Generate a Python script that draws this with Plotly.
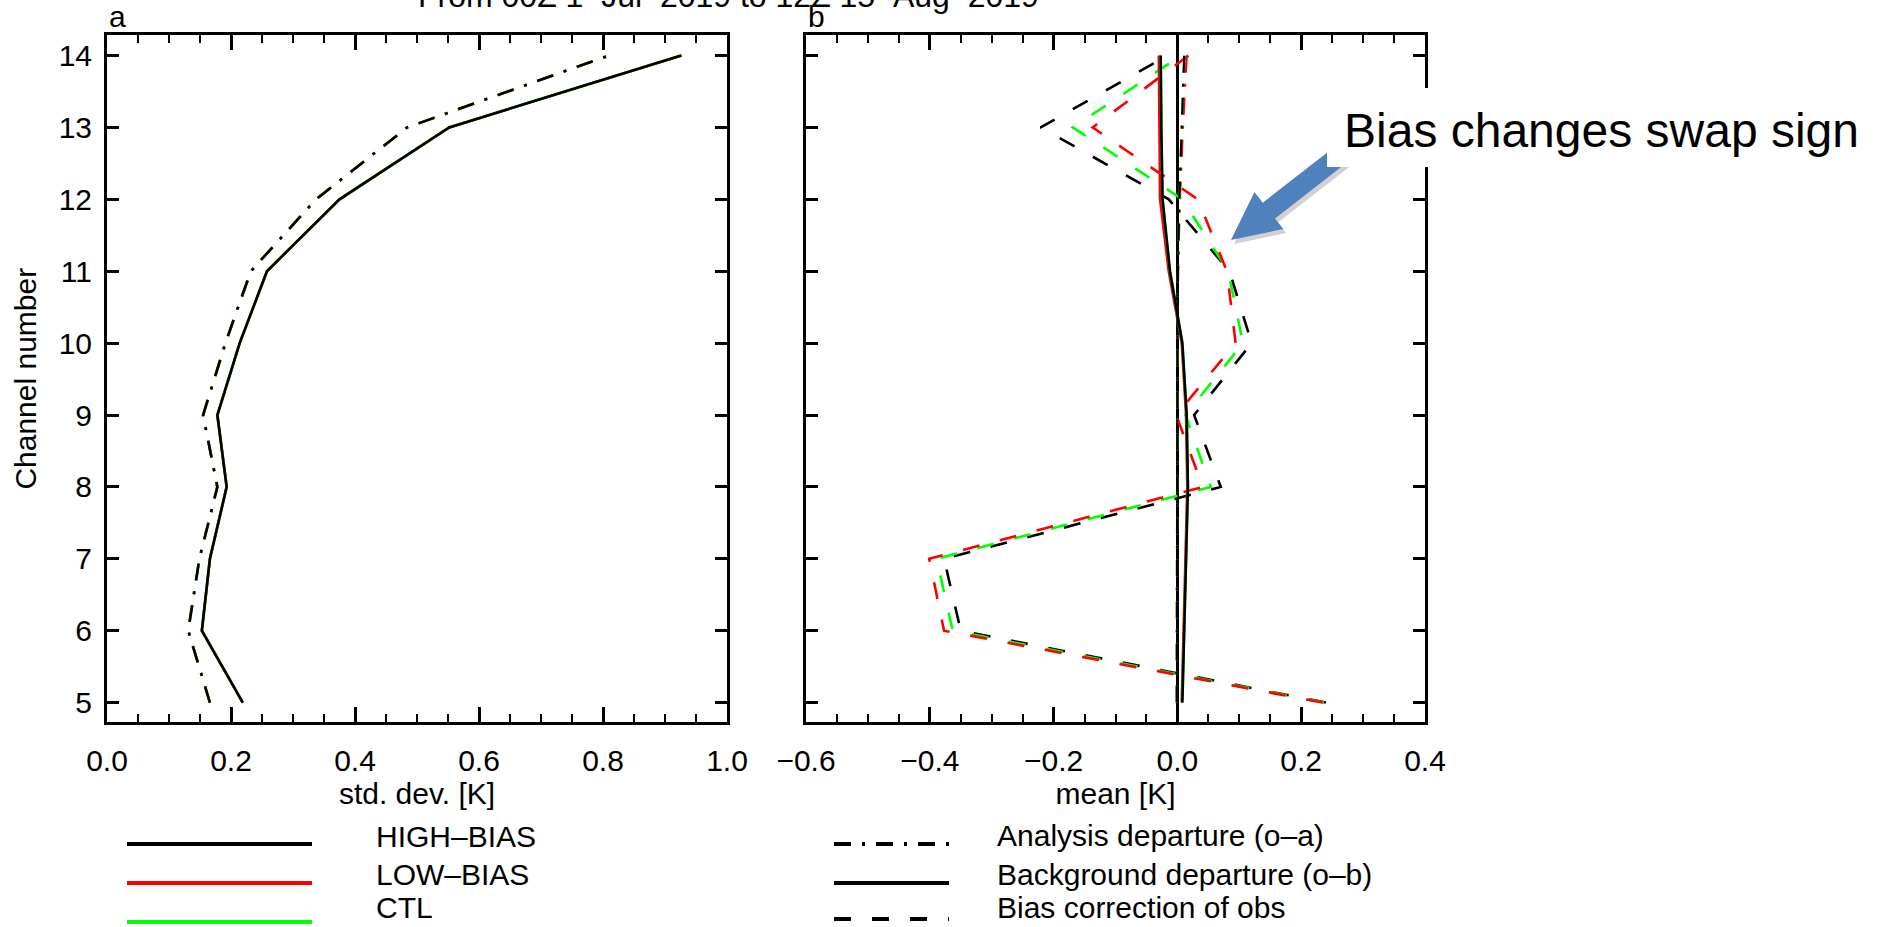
import plotly.graph_objects as go

# ---------------- data ----------------
channels = [5, 6, 7, 8, 9, 10, 11, 12, 13, 14]

# panel a: std. dev. [K] (all three experiments practically identical)
std_oa_high = [0.166, 0.131, 0.149, 0.178, 0.155, 0.191, 0.232, 0.337, 0.484, 0.809]
std_ob_high = [0.219, 0.153, 0.166, 0.193, 0.178, 0.214, 0.258, 0.375, 0.552, 0.926]
std_oa_low = [0.166, 0.131, 0.149, 0.178, 0.155, 0.191, 0.232, 0.337, 0.484, 0.810]
std_ob_low = [0.219, 0.153, 0.166, 0.193, 0.178, 0.214, 0.258, 0.375, 0.552, 0.927]
std_oa_ctl = [0.166, 0.131, 0.149, 0.178, 0.155, 0.191, 0.232, 0.337, 0.484, 0.809]
std_ob_ctl = [0.219, 0.153, 0.166, 0.193, 0.178, 0.214, 0.258, 0.375, 0.552, 0.926]

# panel b: mean [K]
bc_high = [0.240, -0.350, -0.377, 0.070, 0.027, 0.120, 0.084, -0.014, -0.221, -0.016]
bc_ctl = [0.237, -0.363, -0.389, 0.054, 0.013, 0.106, 0.082, 0.008, -0.169, 0.006]
bc_low = [0.235, -0.377, -0.401, 0.041, -0.002, 0.094, 0.080, 0.033, -0.137, 0.018]

mean_ob_high = [0.008, 0.011, 0.014, 0.017, 0.015, 0.008, -0.012, -0.024, -0.026, -0.027]
mean_ob_ctl = [0.008, 0.011, 0.014, 0.017, 0.015, 0.008, -0.012, -0.024, -0.026, -0.027]
mean_ob_low = [0.007, 0.010, 0.013, 0.016, 0.014, 0.007, -0.014, -0.028, -0.029, -0.030]

mean_oa_high = [-0.001, -0.001, -0.001, 0.000, 0.000, 0.000, 0.001, 0.003, 0.007, 0.011]
mean_oa_ctl = [-0.001, -0.001, -0.001, 0.000, 0.000, 0.000, 0.001, 0.003, 0.007, 0.011]
mean_oa_low = [-0.001, -0.001, -0.001, 0.000, 0.000, 0.000, 0.001, 0.004, 0.009, 0.015]

experiments = ["HIGH–BIAS", "LOW–BIAS", "CTL"]
exp_colors = ["#000000", "#ff0000", "#00ff00"]
line_kinds = ["Analysis departure (o–a)", "Background departure (o–b)", "Bias correction of obs"]

x_ticks_a = [0.0, 0.2, 0.4, 0.6, 0.8, 1.0]
x_ticks_b = [-0.6, -0.4, -0.2, 0.0, 0.2, 0.4]

title_text = "From 00Z 1–Jul–2019 to 12Z 15–Aug–2019"

# ---------------- layout helpers ----------------
W, H = 1886, 927
FONT = "Liberation Sans, Arial, Helvetica, sans-serif"
DASHDOT = "17px,11px,3px,11px"
DASHED = "17px,21px"


def px(x):
    return x / W


def py(y):
    return 1 - y / H


fig = go.Figure()

# panel a
for name, col, oa, ob in [("LOW–BIAS", "#ff0000", std_oa_low, std_ob_low),
                          ("CTL", "#00ff00", std_oa_ctl, std_ob_ctl),
                          ("HIGH–BIAS", "#000000", std_oa_high, std_ob_high)]:
    fig.add_trace(go.Scatter(x=oa, y=channels, mode="lines", xaxis="x", yaxis="y",
                             line=dict(color=col, width=2.6, dash=DASHDOT), showlegend=False, name=name))
    fig.add_trace(go.Scatter(x=ob, y=channels, mode="lines", xaxis="x", yaxis="y",
                             line=dict(color=col, width=2.6), showlegend=False, name=name))

# panel b
for name, col, bc in [("HIGH–BIAS", "#000000", bc_high), ("CTL", "#00ff00", bc_ctl),
                      ("LOW–BIAS", "#ff0000", bc_low)]:
    fig.add_trace(go.Scatter(x=bc, y=channels, mode="lines", xaxis="x2", yaxis="y2",
                             line=dict(color=col, width=2.6, dash=DASHED), showlegend=False, name=name))
for name, col, oa, ob in [("LOW–BIAS", "#ff0000", mean_oa_low, mean_ob_low),
                          ("CTL", "#00ff00", mean_oa_ctl, mean_ob_ctl),
                          ("HIGH–BIAS", "#000000", mean_oa_high, mean_ob_high)]:
    fig.add_trace(go.Scatter(x=oa, y=channels, mode="lines", xaxis="x2", yaxis="y2",
                             line=dict(color=col, width=2.2, dash=DASHDOT), showlegend=False, name=name))
    fig.add_trace(go.Scatter(x=ob, y=channels, mode="lines", xaxis="x2", yaxis="y2",
                             line=dict(color=col, width=2.6), showlegend=False, name=name))

tickfont = dict(family=FONT, size=30, color="black")
xdom_a = [px(107), px(727)]
xdom_b = [px(806), px(1425)]
ydom = [py(722), py(35.4)]
yrange = [4.73, 14.28]

common_x = dict(showline=True, linewidth=3, linecolor="black", mirror="allticks",
                ticks="inside", ticklen=15, tickwidth=2.5, tickcolor="black",
                showgrid=False, tickfont=tickfont, tickformat=".1f", automargin=False,
                ticklabelstandoff=10,
                minor=dict(ticks="inside", ticklen=8, tickwidth=2, tickcolor="black", dtick=0.05, showgrid=False))
common_y = dict(showline=True, linewidth=3, linecolor="black", mirror="allticks",
                ticks="inside", ticklen=12, tickwidth=2.5, tickcolor="black", automargin=False,
                showgrid=False, zeroline=False, tickfont=tickfont, range=yrange,
                tickmode="array", tickvals=channels, ticktext=[str(c) for c in channels])

fig.update_layout(
    template="none",
    width=W, height=H, margin=dict(l=0, r=0, t=0, b=0, autoexpand=False),
    paper_bgcolor="white", plot_bgcolor="white",
    font=dict(family=FONT, color="black"),
    xaxis=dict(domain=xdom_a, range=[0, 1], tickmode="array", tickvals=x_ticks_a,
               zeroline=False, anchor="y",
               title=dict(text="std. dev. [K]", font=dict(family=FONT, size=30), standoff=2),
               **common_x),
    yaxis=dict(domain=ydom, anchor="x", ticklabelstandoff=6,
               title=dict(text="Channel number", font=dict(family=FONT, size=30), standoff=14),
               **common_y),
    xaxis2=dict(domain=xdom_b, range=[-0.6, 0.4], tickmode="array", tickvals=x_ticks_b,
                zeroline=True, zerolinecolor="black", zerolinewidth=2.5, anchor="y2",
                title=dict(text="mean [K]", font=dict(family=FONT, size=30), standoff=2),
                **common_x),
    yaxis2=dict(domain=ydom, anchor="x2", showticklabels=False, **common_y),
)

annotations = []
# title, partly cut at the top edge
annotations.append(dict(text=title_text, x=px(728), y=py(-4), xref="paper", yref="paper",
                        xanchor="center", yanchor="middle", showarrow=False,
                        font=dict(family=FONT, size=32, color="black")))
# panel letters
for letter, xl in [("a", 107), ("b", 806)]:
    annotations.append(dict(text=letter, x=px(xl), y=py(17), xref="paper", yref="paper",
                            xanchor="left", yanchor="middle", showarrow=False,
                            font=dict(family=FONT, size=30, color="black")))

shapes = []
# legend (left): experiments
for i, (name, col) in enumerate(zip(experiments, exp_colors)):
    yl = [844, 883, 922][i]
    yt = [836, 874, 907][i]
    shapes.append(dict(type="line", xref="paper", yref="paper", x0=px(127), x1=px(312),
                       y0=py(yl), y1=py(yl), line=dict(color=col, width=4)))
    annotations.append(dict(text=name, x=px(375), y=py(yt), xref="paper", yref="paper",
                            xanchor="left", yanchor="middle", showarrow=False, borderpad=0,
                            font=dict(family=FONT, size=30, color="black")))
# legend (right): line kinds
for i, (name, dash) in enumerate(zip(line_kinds, [DASHDOT, "solid", DASHED])):
    yl = [844, 883, 919][i]
    yt = [835, 874, 907][i]
    shapes.append(dict(type="line", xref="paper", yref="paper", x0=px(834), x1=px(949),
                       y0=py(yl), y1=py(yl), line=dict(color="black", width=4, dash=dash)))
    annotations.append(dict(text=name, x=px(996), y=py(yt), xref="paper", yref="paper",
                            xanchor="left", yanchor="middle", showarrow=False, borderpad=0,
                            font=dict(family=FONT, size=30, color="black")))

# block arrow (pixel geometry converted to paper)
tip = (1231.0, 240.0)
ux, uy = 0.7895, -0.6140
nx, ny = 0.6140, 0.7895
head_len, head_half, shaft_half, total_len = 48.0, 23.5, 10.0, 170.0
bx, by = tip[0] + head_len * ux, tip[1] + head_len * uy
ex, ey = tip[0] + total_len * ux, tip[1] + total_len * uy
poly = [tip,
        (bx + head_half * nx, by + head_half * ny),
        (bx + shaft_half * nx, by + shaft_half * ny),
        (ex + shaft_half * nx, ey + shaft_half * ny),
        (ex - shaft_half * nx, ey - shaft_half * ny),
        (bx - shaft_half * nx, by - shaft_half * ny),
        (bx - head_half * nx, by - head_half * ny)]


def path_of(points, dx=0.0, dy=0.0):
    parts = []
    for k, (a, b) in enumerate(points):
        parts.append(("M" if k == 0 else "L") + f"{px(a + dx):.5f},{py(b + dy):.5f}")
    return " ".join(parts) + " Z"


shapes.append(dict(type="path", xref="paper", yref="paper", path=path_of(poly, 3, 4),
                   fillcolor="rgba(0,0,0,0.18)", line=dict(width=0), layer="above"))
shapes.append(dict(type="path", xref="paper", yref="paper", path=path_of(poly),
                   fillcolor="#4f81bd", line=dict(width=0), layer="above"))
# white text box of the callout
shapes.append(dict(type="rect", xref="paper", yref="paper", x0=px(1327), x1=px(1872),
                   y0=py(167), y1=py(88), fillcolor="white", line=dict(width=0), layer="above"))
annotations.append(dict(text="Bias changes swap sign", x=px(1601), y=py(130), xref="paper", yref="paper",
                        xanchor="center", yanchor="middle", showarrow=False,
                        font=dict(family=FONT, size=48, color="black")))

fig.update_layout(shapes=shapes, annotations=annotations)
fig.write_html("out.html")
